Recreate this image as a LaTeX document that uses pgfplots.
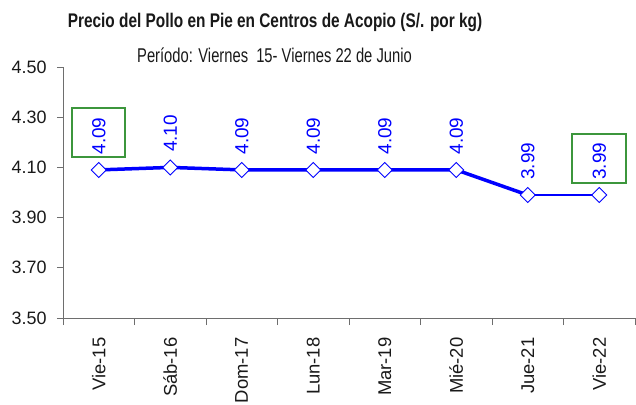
\documentclass[border=0pt]{standalone}
\usepackage{fontspec}
\setmainfont{Liberation Sans}
\newfontfamily\titlefont[FakeStretch=0.78]{Liberation Sans}
\newfontfamily\subfont[FakeStretch=0.74]{Liberation Sans}
\usepackage{pgfplots}
\pgfplotsset{compat=1.18}
\definecolor{gbox}{RGB}{60,150,60}
\definecolor{axgray}{RGB}{110,110,110}
\pgfplotstableread{
x y
0 4.09
1 4.10
2 4.09
3 4.09
4 4.09
5 4.09
6 3.99
7 3.99
}\prices
\begin{document}
\begin{tikzpicture}[x=1bp,y=1bp]
\useasboundingbox (-63bp,-87bp) rectangle (573bp,318bp);
\node[font=\titlefont\bfseries\fontsize{19.8}{22}\selectfont, anchor=base, text=black!90] at (212bp,290bp) {Precio del Pollo en Pie en Centros de Acopio (S/. por kg)};
\node[font=\subfont\fontsize{20}{22}\selectfont, anchor=base, text=black!90] at (211.5bp,255bp) {Período: Viernes\ \ 15- Viernes 22 de Junio};
\begin{axis}[
  at={(0,0)}, anchor=south west,
  scale only axis, width=572bp, height=251bp,
  xmin=-0.5, xmax=7.5, ymin=3.5, ymax=4.5,
  axis x line=bottom, axis y line=left,
  axis line style={-, axgray, line width=0.8pt},
  xtick={0,...,7},
  xticklabels={Vie-15,Sáb-16,Dom-17,Lun-18,Mar-19,Mié-20,Jue-21,Vie-22},
  x tick label style={rotate=90, anchor=east, font=\fontsize{18.5}{20}\selectfont, text=black!90},
  minor xtick={-0.5,0.5,...,7.5},
  ytick={3.5,3.7,...,4.51},
  y tick label style={font=\fontsize{18}{20}\selectfont, text=black!90},
  yticklabel style={/pgf/number format/.cd, fixed, fixed zerofill, precision=2, assume math mode=true},
  tick align=outside,
  major x tick style={draw=none},
  minor x tick style={axgray, line width=0.8pt},
  minor tick length=7bp,
  major y tick style={axgray, line width=0.8pt},
  major tick length=6bp,
  xticklabel shift=10bp,
  yticklabel shift=7bp,
  clip=false,
]
\addplot[blue, line width=3.5bp, no marks] table[x=x,y=y] {
x y
0 4.09
1 4.10
2 4.09
3 4.09
4 4.09
5 4.09
6 3.99
};
\addplot[blue, line width=2.2bp, no marks] table[x=x,y=y] {
x y
6 3.99
7 3.99
};
\addplot[only marks, mark=square*, mark size=5.3bp,
  mark options={rotate=45, fill=white, draw=blue, line width=0.9bp},
  nodes near coords,
  point meta=explicit symbolic,
  every node near coord/.append style={rotate=90, anchor=west, inner xsep=15bp, text=blue, font=\fontsize{19}{20}\selectfont},
] table[x=x,y=y,meta index=1] {\prices};
\draw[gbox, line width=2.2bp] (axis cs:-0.374,4.141) rectangle (axis cs:0.367,4.337);
\draw[gbox, line width=2.2bp] (axis cs:6.619,4.038) rectangle (axis cs:7.374,4.233);
\end{axis}
\end{tikzpicture}
\end{document}
